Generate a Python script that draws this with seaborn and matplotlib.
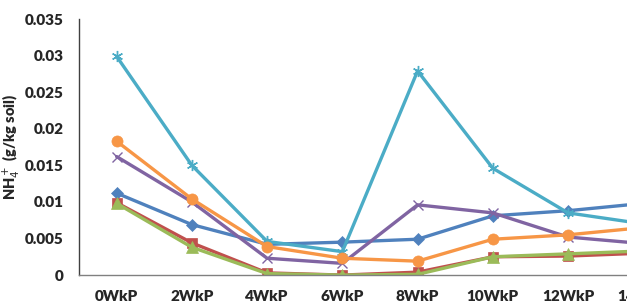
import pandas as pd
import matplotlib as mpl
mpl.use("Agg")
import matplotlib.pyplot as plt
import seaborn as sns

weeks = ["0WkP", "2WkP", "4WkP", "6WkP", "8WkP", "10WkP", "12WkP", "14WkP"]
series = ["S1", "S2", "S3", "S4", "S5", "S6"]

s1 = [0.0112, 0.0069, 0.0042, 0.0045, 0.0049, 0.0081, 0.0088, 0.0098]
s2 = [0.0099, 0.0044, 0.0003, 0.0000, 0.0004, 0.0025, 0.0026, 0.0030]
s3 = [0.0098, 0.0038, 0.0002, 0.0000, 0.0001, 0.0025, 0.0029, 0.0033]
s4 = [0.0162, 0.0100, 0.0023, 0.0016, 0.0096, 0.0085, 0.0052, 0.0043]
s5 = [0.0299, 0.0150, 0.0046, 0.0032, 0.0279, 0.0146, 0.0085, 0.0070]
s6 = [0.0183, 0.0104, 0.0039, 0.0023, 0.0019, 0.0049, 0.0055, 0.0065]

colors = ["#4F81BD", "#C0504D", "#9BBB59", "#8064A2", "#4BACC6", "#F79646"]
markers = ["D", "s", "^", "x", (6, 2, 0), "o"]
msizes = [6, 7, 8, 7, 8, 8]

rows = []
for name, vals in zip(series, [s1, s2, s3, s4, s5, s6]):
    for i, (w, v) in enumerate(zip(weeks, vals)):
        rows.append({"series": name, "pos": i, "week": w, "value": v})
df = pd.DataFrame(rows)

sns.set_style("white")
plt.rcParams["font.family"] = ["Lato", "DejaVu Sans"]

fig = plt.figure(figsize=(6.27, 3.07), dpi=100)
ax = fig.add_axes([0.126, 0.104, 0.960, 0.834])

for name, c, m, ms in zip(series, colors, markers, msizes):
    sub = df[df["series"] == name]
    thin = m == "x" or isinstance(m, tuple)
    sns.lineplot(data=sub, x="pos", y="value", color=c, marker=m, markersize=ms,
                 linewidth=2.4, markeredgecolor=c, markeredgewidth=1.0 if thin else 0.5,
                 ax=ax, legend=False)

ax.set_xlim(-0.5, len(weeks) - 0.5)
ax.set_ylim(0, 0.035)
ax.set_xticks(range(len(weeks)))
ax.set_xticklabels(weeks, fontsize=11, fontweight="heavy")
yt = [0, 0.005, 0.01, 0.015, 0.02, 0.025, 0.03, 0.035]
ax.set_yticks(yt)
ax.set_yticklabels(["0", "0.005", "0.01", "0.015", "0.02", "0.025", "0.03", "0.035"],
                   fontsize=11, fontweight="heavy")
ax.tick_params(axis="both", length=0)
ax.tick_params(axis="y", pad=11)
ax.tick_params(axis="x", pad=11)
ax.set_xlabel("")
ax.set_ylabel("NH$_4^+$ (g/kg soil)", fontsize=10.5, fontweight="heavy")
ax.yaxis.set_label_coords(-0.095, 0.5)

for s in ["top", "right"]:
    ax.spines[s].set_visible(False)
ax.spines["left"].set_color("#404040")
ax.spines["bottom"].set_color("#808080")
ax.spines["left"].set_linewidth(1.0)
ax.spines["bottom"].set_linewidth(1.0)

fig.savefig("out.png", dpi=100)
